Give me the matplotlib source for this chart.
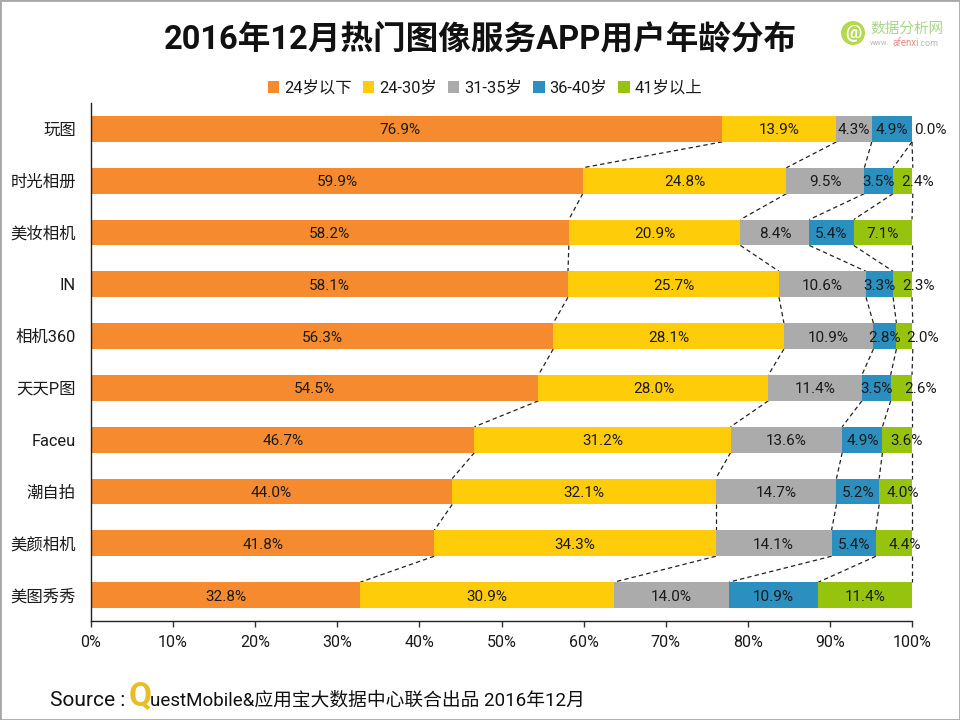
import matplotlib
matplotlib.use("Agg")
import matplotlib.pyplot as plt
from matplotlib.patches import Rectangle, Circle
import numpy as np

plt.rcParams['font.family'] = ['Roboto', 'Noto Sans CJK SC', 'DejaVu Sans']

apps = ['玩图', '时光相册', '美妆相机', 'IN', '相机360', '天天P图', 'Faceu', '潮自拍', '美颜相机', '美图秀秀']
under24 = [76.9, 59.9, 58.2, 58.1, 56.3, 54.5, 46.7, 44.0, 41.8, 32.8]
age24_30 = [13.9, 24.8, 20.9, 25.7, 28.1, 28.0, 31.2, 32.1, 34.3, 30.9]
age31_35 = [4.3, 9.5, 8.4, 10.6, 10.9, 11.4, 13.6, 14.7, 14.1, 14.0]
age36_40 = [4.9, 3.5, 5.4, 3.3, 2.8, 3.5, 4.9, 5.2, 5.4, 10.9]
over41 = [0.0, 2.4, 7.1, 2.3, 2.0, 2.6, 3.6, 4.0, 4.4, 11.4]
series_names = ['24岁以下', '24-30岁', '31-35岁', '36-40岁', '41岁以上']
series_values = [under24, age24_30, age31_35, age36_40, over41]
colors = ['#F58A2E', '#FFCC0A', '#ABABAB', '#2B8FBF', '#96C40E']
# horizontal nudge of the crowded end labels, in axis percent
end_label_shift = [2.2, 1.8, 0, 2.0, 2.2, 2.3, 1.1, 0.9, 1.3, 0.0]

fig = plt.figure(figsize=(9.6, 7.2), dpi=100, facecolor='white')
W, H = 960, 720
ax = fig.add_axes([91 / W, 1 - 621 / H, 821 / W, 518 / H])

y = np.arange(len(apps))
left = np.zeros(len(apps))
bar_h = 0.5
for name, vals, c in zip(series_names, series_values, colors):
    vals = np.array(vals)
    ax.barh(y, vals, left=left, height=bar_h, color=c, label=name, zorder=2)
    left = left + vals

# dashed series lines between adjacent bars
cum = np.cumsum(np.array(series_values), axis=0)
for row in cum:
    for i in range(len(apps) - 1):
        ax.plot([row[i], row[i + 1]], [i + bar_h / 2, i + 1 - bar_h / 2],
                color='#222222', lw=0.9, ls=(0, (3.5, 2.5)), zorder=1, clip_on=False)

# value labels
for s, vals in enumerate(series_values):
    for i, v in enumerate(vals):
        xc = cum[s][i] - v / 2
        if s == 4:
            xc += end_label_shift[i]
        if s == 0 and i == 0:
            xc -= 0.8
        ax.text(xc, i + 0.03, f'{v:.1f}%', ha='center', va='center', fontsize=11,
                color='#1a1a1a', zorder=3, clip_on=False)

ax.set_xlim(0, 100)
ax.set_ylim(len(apps) - 0.5, -0.5)
ax.set_xticks(np.arange(0, 101, 10))
ax.set_xticklabels([f'{t}%' for t in range(0, 101, 10)], fontsize=11.5, color='#1a1a1a')
ax.set_yticks(y)
ax.set_yticklabels(apps, fontsize=11.8, color='#1a1a1a')
ax.tick_params(axis='y', length=0, pad=11)
ax.tick_params(axis='x', length=4, width=1, color='#333333', pad=6)
for side in ['top', 'right']:
    ax.spines[side].set_visible(False)
for side in ['left', 'bottom']:
    ax.spines[side].set_color('#222222')
    ax.spines[side].set_linewidth(1)

leg = fig.legend(*ax.get_legend_handles_labels(), loc='center', bbox_to_anchor=(485 / W, 1 - 88 / H),
                 ncol=5, frameon=False, fontsize=11.8, handlelength=0.7, handleheight=0.7,
                 handletextpad=0.3, columnspacing=0.67, labelcolor='#1a1a1a')

fig.text(480 / W, 1 - 39.5 / H, '2016年12月热门图像服务APP用户年龄分布', ha='center', va='center',
         fontsize=23.5, fontweight='bold', color='#111111')

# source line
fig.text(50 / W, 1 - 700 / H, 'Source :', ha='left', va='center', fontsize=15, color='#111111')
fig.text(129 / W, 1 - 696 / H, 'Q', ha='left', va='center', fontsize=24, fontweight='bold', color='#E9BE25')
fig.text(150 / W, 1 - 700 / H, 'uestMobile&应用宝大数据中心联合出品 2016年12月', ha='left', va='center',
         fontsize=13.5, color='#111111')

# logo
fig.add_artist(Circle((853 / W * 9.6 * 100, (1 - 33 / H) * 7.2 * 100), 12, transform=None,
                      fc='#B5D94C', ec='none'))
fig.text(853 / W, 1 - 33 / H, '@', ha='center', va='center', fontsize=13, fontweight='bold', color='white')
fig.text(870 / W, 1 - 29 / H, '数据分析网', ha='left', va='center', fontsize=10.5, color='#A8D58A')
fig.text(870 / W, 1 - 43 / H, 'www.', ha='left', va='center', fontsize=5.6, color='#B9B9B9')
fig.text(892 / W, 1 - 43 / H, 'afenxi', ha='left', va='center', fontsize=7, color='#E58A8A')
fig.text(918 / W, 1 - 43 / H, '.com', ha='left', va='center', fontsize=6.5, color='#B9B9B9')

# image border
fig.add_artist(Rectangle((0, 0), 1, 1, transform=fig.transFigure, fill=False, ec='#A8A8A8', lw=2))

fig.savefig('out.png', dpi=100, facecolor='white')
